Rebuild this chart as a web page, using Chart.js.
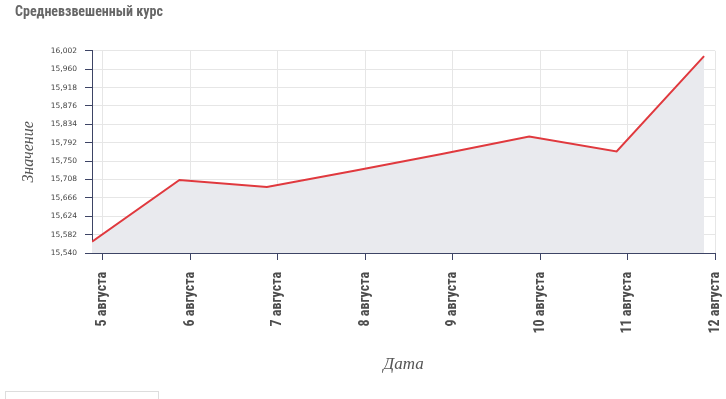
<!DOCTYPE html>
<html>
<head>
<meta charset="utf-8">
<script src="https://cdn.jsdelivr.net/npm/chart.js@4"></script>
<style>
  html, body { margin: 0; padding: 0; background: #fff; }
  .wrap { position: relative; width: 726px; height: 399px; overflow: hidden; }
  .legend-box { position: absolute; left: 5px; top: 391px; width: 152px; height: 20px;
    border: 1px solid #ddd; border-bottom: none; }
</style>
</head>
<body>
<div class="wrap">
  <canvas id="chart" width="726" height="399"></canvas>
  <div class="legend-box"></div>
</div>
<script>
const TITLE = 'Средневзвешенный курс';
// points sit at 21:00 of the previous day, ticks at midnight
const pointDays = [4.875, 5.875, 6.875, 7.875, 8.875, 9.875, 10.875, 11.875];
const rates = [15.566, 15.707, 15.691, 15.728, 15.766, 15.806, 15.772, 15.990];
const tickDays = [5, 6, 7, 8, 9, 10, 11, 12];
const tickLabels = ['5 августа', '6 августа', '7 августа', '8 августа',
  '9 августа', '10 августа', '11 августа', '12 августа'];
const yTicks = [15.540, 15.582, 15.624, 15.666, 15.708, 15.750, 15.792,
  15.834, 15.876, 15.918, 15.960, 16.002];

const AXIS_COLOR = '#3d4465';
const GRID_COLOR = '#e6e6e6';
const TEXT_COLOR = '#555';
const CONDENSED = "'Liberation Sans Narrow', 'Roboto Condensed', Roboto, sans-serif";

function setupChart(canvas) {
  const data = {
    datasets: [{
      data: pointDays.map((x, i) => ({x, y: rates[i]})),
      borderColor: '#e0393e',
      borderWidth: 2,
      backgroundColor: '#e9eaee',
      fill: 'start',
      pointRadius: 0,
      tension: 0,
    }],
  };

  const options = {
    responsive: false,
    animation: false,
    layout: {padding: {left: 15, right: 11, bottom: 20}},
    plugins: {
      legend: {display: false},
      tooltip: {enabled: false},
      title: {
        display: true,
        text: TITLE,
        align: 'start',
        color: '#666',
        font: {family: CONDENSED, size: 14, weight: 'bold'},
        padding: {top: 4, bottom: 30},
      },
    },
    scales: {
      x: {
        type: 'linear',
        min: pointDays[0],
        max: tickDays[tickDays.length - 1],
        afterBuildTicks: (scale) => { scale.ticks = tickDays.map((value) => ({value})); },
        afterFit: (scale) => {
          scale.height = 126;
          scale.paddingLeft = 0;
          scale.paddingRight = 0;
        },
        ticks: {
          autoSkip: false,
          minRotation: 90,
          maxRotation: 90,
          padding: 12,
          color: '#4d4d4d',
          font: {family: CONDENSED, size: 14, weight: 'bold'},
          callback: (value, index) => tickLabels[index],
        },
        grid: {color: GRID_COLOR, tickColor: AXIS_COLOR, tickLength: 7},
        border: {color: AXIS_COLOR},
        title: {
          display: true,
          text: 'Дата',
          color: TEXT_COLOR,
          font: {family: "'Liberation Serif', serif", size: 17, style: 'italic'},
          padding: {top: 0, bottom: 4},
        },
      },
      y: {
        min: yTicks[0],
        max: yTicks[yTicks.length - 1],
        afterBuildTicks: (scale) => { scale.ticks = yTicks.map((value) => ({value})); },
        afterFit: (scale) => { scale.width = 77; },
        ticks: {
          padding: 8,
          color: '#444',
          font: {family: "'DejaVu Sans', sans-serif", size: 7.5},
          callback: (value) => value.toFixed(3).replace('.', ','),
        },
        grid: {color: GRID_COLOR, tickColor: AXIS_COLOR, tickLength: 7},
        border: {color: AXIS_COLOR},
        title: {
          display: true,
          text: 'Значение',
          color: TEXT_COLOR,
          font: {family: "'Liberation Serif', serif", size: 16, style: 'italic'},
          padding: {top: 4, bottom: 0},
        },
      },
    },
  };

  new Chart(canvas.getContext('2d'), {type: 'line', data, options});
}

document.addEventListener('DOMContentLoaded', () => {
  setupChart(document.getElementById('chart'));
});
</script>
</body>
</html>
